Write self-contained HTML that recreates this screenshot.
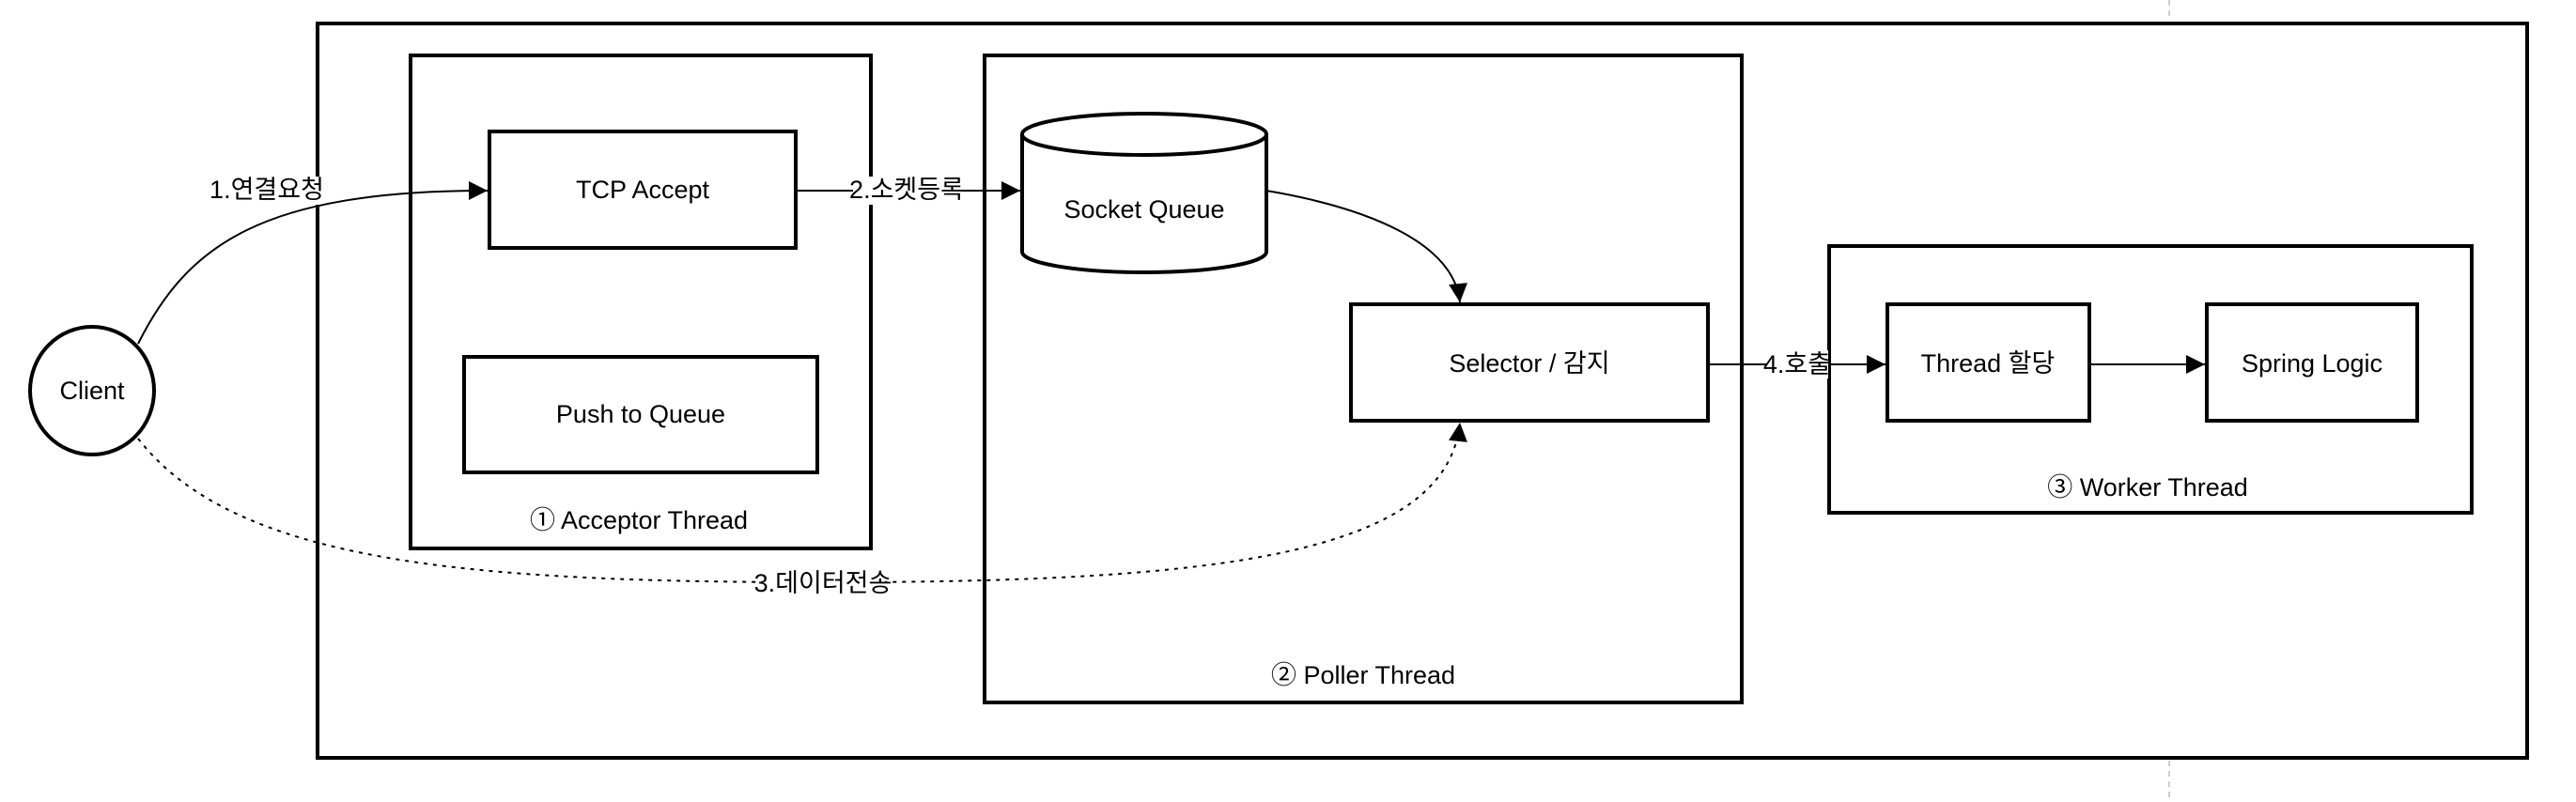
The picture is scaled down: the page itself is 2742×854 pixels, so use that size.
<!DOCTYPE html>
<html><head><meta charset="utf-8"><style>
html,body{margin:0;padding:0;background:#fff;}
svg{display:block;}
text{font-family:"Liberation Sans","Noto Sans CJK KR",sans-serif;font-size:27px;fill:#000;}
</style></head><body>
<svg width="2742" height="854" viewBox="0 0 2742 854" xmlns="http://www.w3.org/2000/svg">
<defs>
<marker id="b" markerWidth="24" markerHeight="24" refX="20" refY="12" orient="auto" markerUnits="userSpaceOnUse" viewBox="0 0 24 24">
<path d="M0,2 L20,12 L0,22 z" fill="#000"/></marker>
</defs>
<line x1="2309" y1="0" x2="2309" y2="22" stroke="#bbb" stroke-width="1.5" stroke-dasharray="6,5"/>
<line x1="2309" y1="810" x2="2309" y2="854" stroke="#bbb" stroke-width="1.5" stroke-dasharray="6,5"/>
<g fill="none" stroke="#000" stroke-width="4">
<rect x="338" y="25" width="2352" height="782"/>
<rect x="437" y="59" width="490" height="525"/>
<rect x="1048" y="59" width="806" height="689"/>
<rect x="1947" y="262" width="684" height="284"/>
<rect x="521" y="140" width="326" height="124"/>
<rect x="494" y="380" width="376" height="123"/>
<rect x="1438" y="324" width="380" height="124"/>
<rect x="2009" y="324" width="215" height="124"/>
<rect x="2349" y="324" width="224" height="124"/>
<path d="M1088,143 L1088,268 A130,22 0 0 0 1348,268 L1348,143"/>
<ellipse cx="1218" cy="143" rx="130" ry="22"/>
<ellipse cx="98" cy="416" rx="66" ry="68"/>
</g>
<g fill="none" stroke="#000" stroke-width="2">
<path d="M147,366 C200,260 280,203 519,203" marker-end="url(#b)"/>
<path d="M847,203 L1086,203" marker-end="url(#b)"/>
<path d="M1348,203 C1460,222 1548,260 1554,322" marker-end="url(#b)"/>
<path d="M1818,388 L2007,388" marker-end="url(#b)"/>
<path d="M2224,388 L2347,388" marker-end="url(#b)"/>
<path d="M147,467 C250,600 500,620 880,620 C1300,620 1540,590 1554,450" stroke-dasharray="4,6" marker-end="url(#b)"/>
</g>
<g fill="#fff">
<rect x="225" y="188" width="115" height="30"/>
<rect x="908" y="188" width="115" height="30"/>
<rect x="812" y="606" width="130" height="30"/>
<rect x="1880" y="373" width="66" height="30"/>
</g>
<g text-anchor="middle" dominant-baseline="central">
<text x="98" y="416">Client</text>
<text x="684" y="202">TCP Accept</text>
<text x="682" y="441">Push to Queue</text>
<text x="680" y="554">① Acceptor Thread</text>
<text x="1218" y="223">Socket Queue</text>
<text x="1628" y="387">Selector / 감지</text>
<text x="1451" y="719">② Poller Thread</text>
<text x="2116" y="387">Thread 할당</text>
<text x="2461" y="387">Spring Logic</text>
<text x="2286" y="519">③ Worker Thread</text>
<text x="284" y="202" font-size="24">1.연결요청</text>
<text x="965" y="202" font-size="24">2.소켓등록</text>
<text x="876" y="621" font-size="24">3.데이터전송</text>
<text x="1913" y="388" font-size="24">4.호출</text>
</g>
</svg>
</body></html>
